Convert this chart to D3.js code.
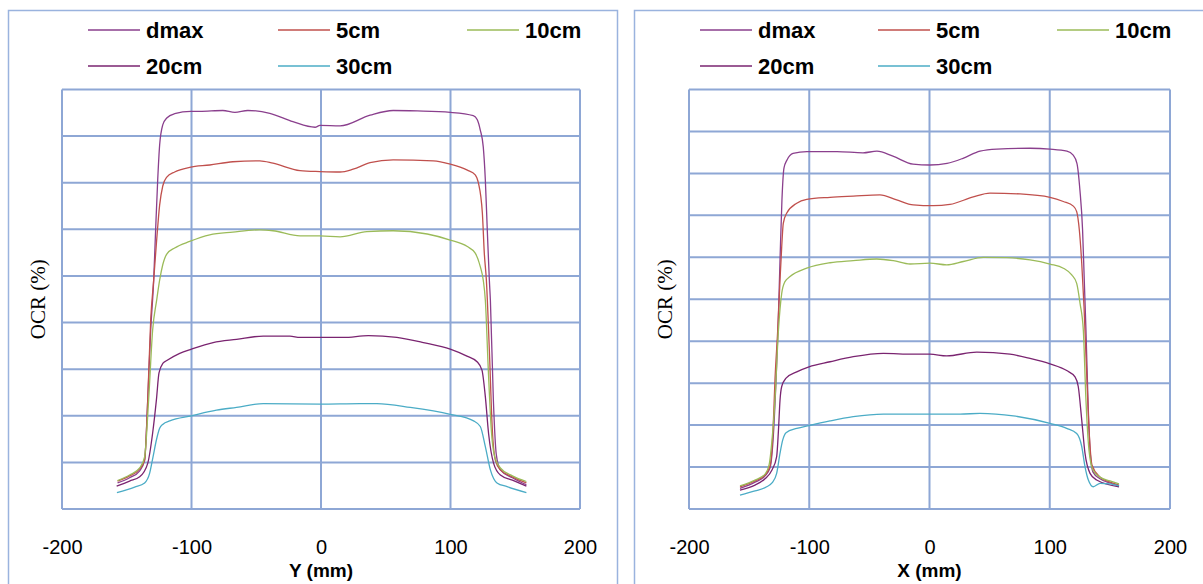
<!DOCTYPE html>
<html><head><meta charset="utf-8">
<script src="https://cdn.jsdelivr.net/npm/d3@7/dist/d3.min.js"></script>
<style>body{margin:0;background:#fff} svg{display:block}</style>
</head><body>
<svg id="c" width="1203" height="584"></svg>
<script>
// ---------- data ----------
const xTicks = [-200, -100, 0, 100, 200];
const seriesNames = ["dmax", "5cm", "10cm", "20cm", "30cm"];
const seriesColors = ["#8A3F8D", "#C0504D", "#9BBB59", "#7A2470", "#4BACC6"];
const panelTitles = ["Y (mm)", "X (mm)"];
const yAxisTitle = "OCR (%)";
const leftYTicks = [0, 10, 20, 30, 40, 50, 60, 70, 80, 90];
const rightYTicks = [0, 10, 20, 30, 40, 50, 60, 70, 80, 90, 100];

// Y profile (left panel): [position mm, relative value]
const yDmax = [[-157.1,5.6],[-147.8,6.7],[-140,8.2],[-136.2,10.5],[-133.8,23.4],[-131.5,38.4],[-129.2,49.1],[-127.7,59.9],[-126.1,70.6],[-124.6,78.1],[-122.2,82.4],[-119.1,83.9],[-113,84.8],[-100.6,85.3],[-93.6,85.3],[-75.8,85.5],[-66.5,85.1],[-56.5,85.5],[-39.5,84.9],[-21.7,83.1],[-4.6,81.9],[-0.8,82.3],[14.7,82.2],[37.9,84.5],[55.7,85.5],[74.3,85.4],[99.8,85.1],[117.6,84.4],[120.7,83.5],[123,81.3],[125.3,77.7],[126.9,70.6],[128.4,59.9],[130,49.1],[130.8,44.8],[133.1,23.4],[135.4,11.6],[138.5,8.4],[147.8,6.7],[158.6,5.2]];
const y5cm = [[-157.1,6.0],[-147.8,7.1],[-140,8.6],[-136.2,10.5],[-133.8,23.4],[-131.5,40.6],[-129.2,49.1],[-126.9,57.7],[-124.6,65.2],[-122.2,69.3],[-119.1,71.2],[-113,72.3],[-101.4,73.3],[-85.9,73.8],[-68.1,74.5],[-47.2,74.7],[-37.1,74.2],[-16.2,72.6],[-0.8,72.4],[14.7,72.3],[24.8,72.9],[37.9,74.3],[55.7,74.9],[86.7,74.7],[99.8,74.0],[113,72.7],[119.1,71.7],[121.5,70.0],[124.6,63.5],[126.1,54.9],[127.7,49.1],[130,34.1],[132.3,17.0],[134.6,10.5],[138.5,8.4],[147.8,6.9],[158.6,5.6]];
const y10cm = [[-157.1,6.1],[-147.8,7.3],[-140,8.8],[-136.2,11.2],[-133.1,23.4],[-130,38.4],[-126.9,44.8],[-124.6,49.1],[-122.2,52.4],[-119.1,54.7],[-113,56.0],[-101.4,57.4],[-85.9,58.8],[-68.1,59.4],[-47.2,59.9],[-37.1,59.7],[-16.2,58.6],[-0.8,58.6],[14.7,58.4],[35.4,59.5],[55.7,59.7],[82,59.0],[99.8,57.7],[113,56.3],[119.1,54.9],[123,52.0],[125.3,49.1],[126.9,44.8],[129.2,29.8],[131.5,17.0],[133.8,11.6],[138.5,8.8],[147.8,7.1],[158.6,5.9]];
const y20cm = [[-157.8,4.9],[-147.8,6.0],[-140,6.9],[-133.8,9.8],[-130,16.3],[-127.1,23.4],[-125.1,29.2],[-122,31.3],[-119.4,31.8],[-109.1,33.4],[-100,34.3],[-83.3,35.7],[-65.2,36.4],[-44.6,37.1],[-24,37.1],[-16.2,36.8],[1.8,36.8],[17.3,36.8],[36.6,37.2],[58.6,36.8],[79.1,35.7],[99.8,34.3],[112.7,32.8],[120.5,31.6],[124.3,29.8],[126.9,24.1],[129.4,16.2],[133.3,9.8],[138.5,7.3],[147.8,6.2],[158.6,4.9]];
const y30cm = [[-157.6,3.5],[-143.9,4.7],[-136.2,5.6],[-132.3,7.7],[-129.7,11.2],[-127.1,14.8],[-124.6,17.3],[-122,18.2],[-116.8,18.9],[-100,20.0],[-80.7,21.2],[-65.2,21.8],[-44.6,22.6],[-0.8,22.5],[30.2,22.6],[43.1,22.6],[68.9,21.8],[99.8,20.3],[117.8,18.9],[123,17.7],[126.9,13.4],[130.8,8.4],[135.9,5.6],[143.7,4.8],[158.6,3.5]];

// X profile (right panel)
const xDmax = [[-157.6,4.9],[-145.1,6.4],[-136.8,7.9],[-132.6,9.8],[-130.1,16.4],[-127.6,30.8],[-126,42.7],[-124.3,59.4],[-122.7,73.7],[-121,81.3],[-118.5,83.2],[-113.5,84.8],[-101.9,85.2],[-76.9,85.2],[-55.3,84.9],[-43.7,85.3],[-30.4,84.1],[-13.7,82.2],[0.4,82.0],[14.6,82.4],[27.9,83.6],[42,85.3],[56.1,85.8],[83.6,86.0],[100.2,85.8],[114.3,85.3],[119.3,84.4],[122.6,82.4],[125.1,76.0],[127.3,66.5],[128.7,54.6],[130.1,42.7],[131.8,26.0],[133.5,14.1],[136,8.8],[141.8,7.2],[150.1,6.2],[157.6,5.5]];
const x5cm = [[-157.6,5.3],[-145.1,6.7],[-136.8,8.1],[-132.6,10.3],[-130.1,18.8],[-128.5,30.8],[-126.2,42.7],[-124.3,54.6],[-122.9,62.5],[-121.6,68.1],[-118.8,70.5],[-110.4,72.9],[-102.1,73.8],[-82.7,74.3],[-63.4,74.6],[-41.2,74.9],[-27.3,73.7],[-13.5,72.5],[3.2,72.3],[17,72.6],[36.4,74.4],[50.3,75.3],[75.3,75.1],[100.2,74.3],[111.3,73.3],[119.6,72.2],[122.4,70.9],[124.6,66.5],[126.6,58.6],[128.5,48.2],[130.6,33.1],[132.7,18.8],[135.1,10.5],[141.8,7.6],[150.1,6.4],[157.6,5.7]];
const x10cm = [[-157.6,5.5],[-145.1,6.9],[-136.8,8.3],[-133.4,10.5],[-131,16.4],[-128.5,26.0],[-125.6,42.7],[-122.9,51.4],[-120.2,54.2],[-116,55.4],[-102.1,57.4],[-82.7,58.7],[-63.4,59.2],[-43.9,59.6],[-30.1,59.2],[-16.2,58.4],[0.4,58.6],[14.3,58.2],[28.1,59.0],[44.7,60.0],[64.2,59.9],[83.6,59.4],[100.2,58.4],[111.3,57.4],[118.3,55.8],[122.4,53.8],[125.2,49.0],[127.9,42.7],[130.1,26.0],[132.6,14.1],[135.9,9.3],[141.8,7.6],[150.1,6.7],[157.6,6.0]];
const x20cm = [[-157.6,4.5],[-145.1,5.7],[-136.8,7.2],[-131,9.3],[-127.1,12.5],[-125.6,18.8],[-124.3,26.0],[-122.9,29.2],[-119.3,31.2],[-110.4,32.7],[-100.2,33.9],[-82.7,35.1],[-63.4,36.3],[-38.4,37.1],[-13.5,36.9],[0.4,36.9],[14.3,36.5],[39.3,37.4],[66.9,36.9],[83.6,35.9],[100.2,34.6],[114.1,33.0],[121,31.5],[123.7,29.2],[126.6,21.2],[129.3,13.3],[133.5,8.5],[139,6.9],[157.6,5.3]];
const x30cm = [[-157.6,3.3],[-145.1,4.3],[-135.4,5.3],[-131,6.2],[-127.1,8.5],[-124.3,13.3],[-122.1,16.4],[-119.3,18.2],[-110.4,19.2],[-100.2,19.9],[-82.7,21.0],[-63.4,22.0],[-38.4,22.6],[0.4,22.6],[25.4,22.6],[42,22.8],[69.7,22.2],[100.2,20.4],[114.1,19.2],[122.4,18.0],[126.6,14.9],[129.3,10.1],[132.1,6.9],[136.2,5.3],[141.8,6.1],[150.1,6.0],[157.6,5.5]];

// ---------- drawing ----------
const svg = d3.select("#c");
const gridColor = "#8EA7D5";
const font = "'Liberation Sans', Arial, sans-serif";

const panels = [
  { frame:[8,10,609,620], plot:{x0:62,x1:580,y0:89.5,y1:509}, yTicks:leftYTicks,
    series:[yDmax,y5cm,y10cm,y20cm,y30cm], title:panelTitles[0],
    legendX:[88,278,467], yTitleX:45 },
  { frame:[634,10,620,620], plot:{x0:689,x1:1170,y0:89.5,y1:509}, yTicks:rightYTicks,
    series:[xDmax,x5cm,x10cm,x20cm,x30cm], title:panelTitles[1],
    legendX:[700,878,1057], yTitleX:672 }
];

panels.forEach(p => {
  const g = svg.append("g");
  // outer frame
  g.append("rect").attr("x",p.frame[0]+0.5).attr("y",p.frame[1]+0.5)
    .attr("width",p.frame[2]).attr("height",p.frame[3])
    .attr("fill","none").attr("stroke","#9AB3DE").attr("stroke-width",1.5);

  const x = d3.scaleLinear().domain([xTicks[0], xTicks[xTicks.length-1]]).range([p.plot.x0, p.plot.x1]);
  const y = d3.scaleLinear().domain([p.yTicks[0], p.yTicks[p.yTicks.length-1]]).range([p.plot.y1, p.plot.y0]);

  // gridlines
  g.append("g").selectAll("line.h").data(p.yTicks).join("line")
    .attr("x1",p.plot.x0).attr("x2",p.plot.x1).attr("y1",d=>y(d)).attr("y2",d=>y(d))
    .attr("stroke",gridColor).attr("stroke-width",2);
  g.append("g").selectAll("line.v").data(xTicks).join("line")
    .attr("y1",p.plot.y0).attr("y2",p.plot.y1).attr("x1",d=>x(d)).attr("x2",d=>x(d))
    .attr("stroke",gridColor).attr("stroke-width",2);

  // x tick labels
  const ax = d3.axisBottom(x).tickValues(xTicks).tickSize(0).tickPadding(0).tickFormat(d => String(d));
  const axg = g.append("g").attr("transform",`translate(0,${554})`).call(ax);
  axg.select(".domain").remove();
  axg.selectAll("text").attr("dy",0).attr("font-family",font).attr("font-size",20).attr("fill","#000");

  // axis title
  g.append("text").attr("x",(p.plot.x0+p.plot.x1)/2).attr("y",577).attr("text-anchor","middle")
    .attr("font-family",font).attr("font-weight","bold").attr("font-size",19).text(p.title);
  // y title
  g.append("text").attr("transform",`translate(${p.yTitleX},${(p.plot.y0+p.plot.y1)/2}) rotate(-90)`)
    .attr("text-anchor","middle").attr("font-family","'Liberation Serif', 'DejaVu Serif', serif")
    .attr("font-size",21).text(yAxisTitle);

  // series
  const line = d3.line().x(d=>x(d[0])).y(d=>y(d[1])).curve(d3.curveMonotoneX);
  g.append("g").selectAll("path").data(p.series).join("path")
    .attr("d",line).attr("fill","none").attr("stroke",(d,i)=>seriesColors[i]).attr("stroke-width",1.3);

  // legend
  const rows = [37, 73];
  seriesNames.forEach((name,i) => {
    const col = i % 3, row = Math.floor(i/3);
    const lx = p.legendX[col], ly = rows[row] - 7;
    g.append("line").attr("x1",lx).attr("x2",lx+52).attr("y1",ly).attr("y2",ly)
      .attr("stroke",seriesColors[i]).attr("stroke-width",1.3);
    g.append("text").attr("x",lx+58).attr("y",rows[row]+1).attr("font-family",font)
      .attr("font-weight","bold").attr("font-size",22).text(name);
  });
});
</script>
</body></html>
